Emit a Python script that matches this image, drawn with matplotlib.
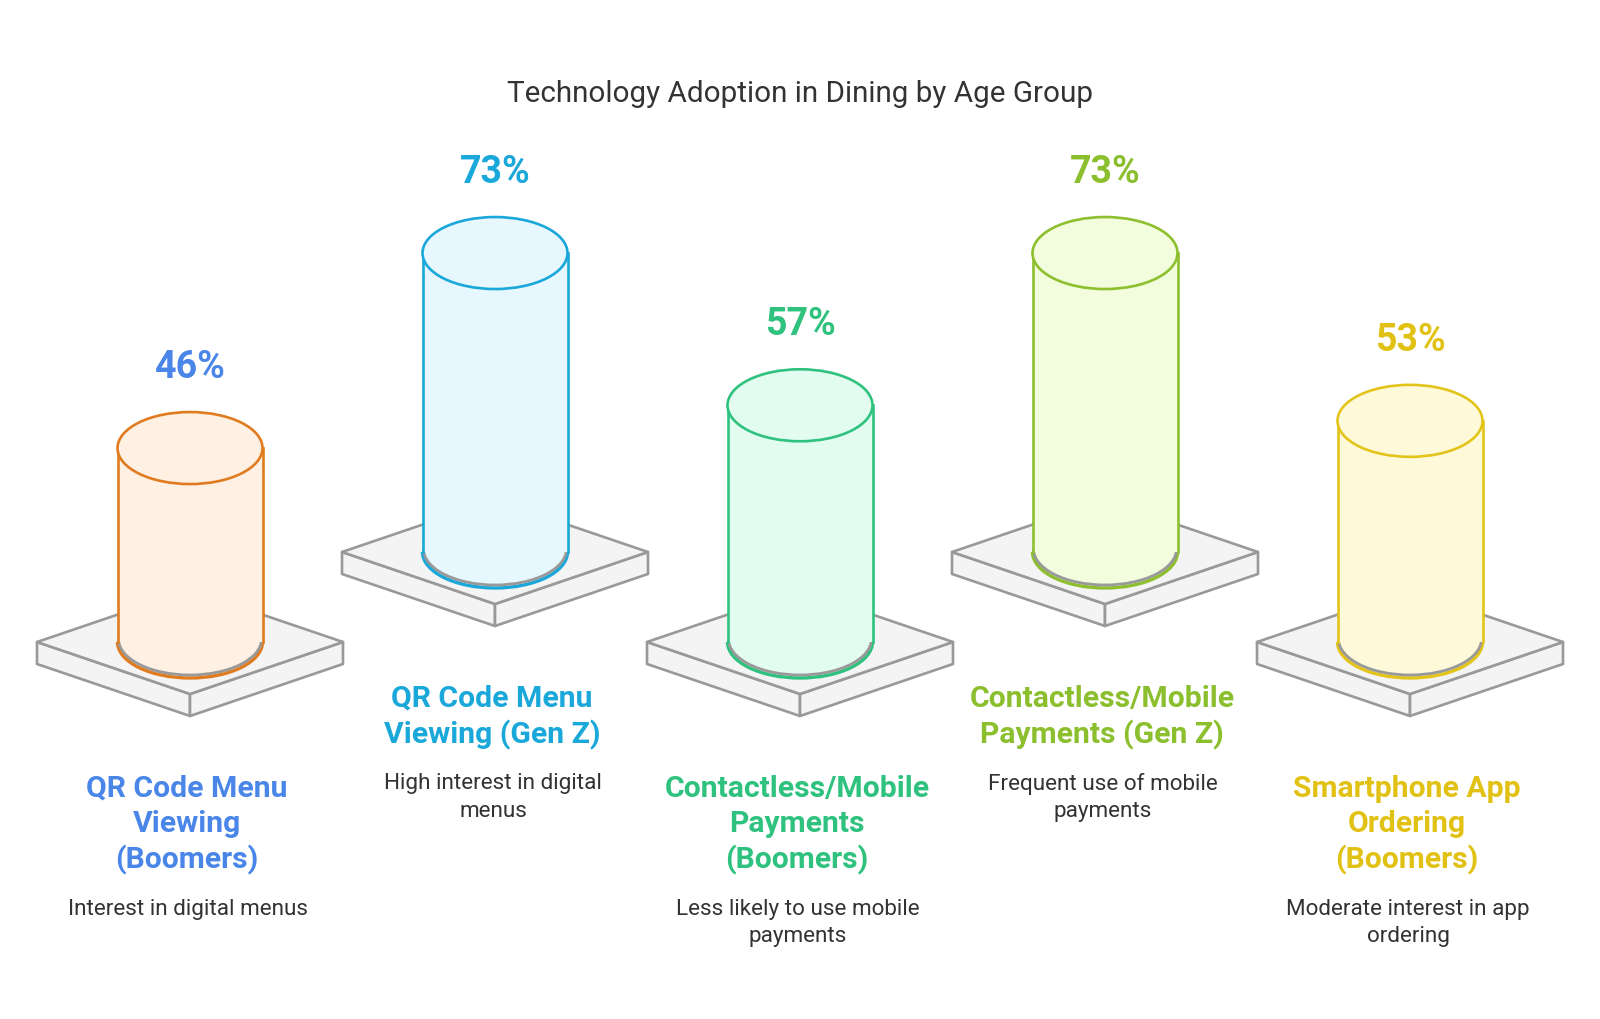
import matplotlib

matplotlib.use("Agg")
import matplotlib.pyplot as plt
from matplotlib.patches import Arc, Ellipse, Polygon, Rectangle

plt.rcParams["font.family"] = ["Roboto", "DejaVu Sans"]

# --- data -------------------------------------------------------------------
categories = [
    "QR Code Menu\nViewing\n(Boomers)",
    "QR Code Menu\nViewing (Gen Z)",
    "Contactless/Mobile\nPayments\n(Boomers)",
    "Contactless/Mobile\nPayments (Gen Z)",
    "Smartphone App\nOrdering\n(Boomers)",
]
values = [46, 73, 57, 73, 53]
descriptions = [
    "Interest in digital menus",
    "High interest in digital\nmenus",
    "Less likely to use mobile\npayments",
    "Frequent use of mobile\npayments",
    "Moderate interest in app\nordering",
]
text_colors = ["#4A86E8", "#1AA7D9", "#2EC27E", "#8BBF2E", "#E1C214"]
edge_colors = ["#E07B1F", "#1AA7D9", "#2EC27E", "#8DBF2E", "#E3C41A"]
fill_colors = ["#FEF0E3", "#E6F7FD", "#E2FCEF", "#F1FDDC", "#FEF9D9"]
title = "Technology Adoption in Dining by Age Group"

# --- layout (pixel space, y grows downward) ---------------------------------
W, H = 1600, 1020
x0, step = 190, 305
base_y = [643, 553]          # low / high slabs alternate
slab_hw, slab_hd, slab_t = 153, 52, 22
cyl_hw, cyl_hh = 72.5, 36
h_min, px_per_pct = 15, 3.89  # cylinder height = h_min + value * px_per_pct
slab_face, slab_edge = "#F4F4F4", "#999999"

fig = plt.figure(figsize=(W / 100, H / 100), dpi=100)
ax = fig.add_axes([0, 0, 1, 1])
ax.set_xlim(0, W)
ax.set_ylim(H, 0)
ax.axis("off")

ax.text(W / 2, 91, title, ha="center", va="center_baseline", fontsize=21.3, color="#333333")

for i, (cat, val, desc) in enumerate(zip(categories, values, descriptions)):
    cx = x0 + i * step
    by = base_y[i % 2]

    # slab: top face + two visible sides
    left, front, right, back = (cx - slab_hw, by), (cx, by + slab_hd), (cx + slab_hw, by), (cx, by - slab_hd)
    sides = [
        [left, front, (front[0], front[1] + slab_t), (left[0], left[1] + slab_t)],
        [front, right, (right[0], right[1] + slab_t), (front[0], front[1] + slab_t)],
        [left, front, right, back],
    ]
    for pts in sides:
        ax.add_patch(Polygon(pts, closed=True, fc=slab_face, ec=slab_edge, lw=1.9, joinstyle="round", zorder=2))

    # cylinder
    top = by - (h_min + val * px_per_pct)
    ec, fc = edge_colors[i], fill_colors[i]
    ax.add_patch(Ellipse((cx, by), 2 * cyl_hw, 2 * cyl_hh, fc=fc, ec="none", zorder=3))
    ax.add_patch(Arc((cx, by), 2 * cyl_hw, 2 * cyl_hh, theta1=0, theta2=180, ec=ec, lw=2.4, zorder=3))
    ax.add_patch(Arc((cx, by - 3), 2 * cyl_hw - 2, 2 * cyl_hh, theta1=0, theta2=180, ec="#999999", lw=2.0, zorder=3))
    ax.add_patch(Rectangle((cx - cyl_hw, top), 2 * cyl_hw, by - top, fc=fc, ec="none", zorder=3))
    ax.plot([cx - cyl_hw, cx - cyl_hw], [top, by], color=ec, lw=1.9, zorder=4)
    ax.plot([cx + cyl_hw, cx + cyl_hw], [top, by], color=ec, lw=1.9, zorder=4)
    ax.add_patch(Ellipse((cx, top), 2 * cyl_hw, 2 * cyl_hh, fc=fc, ec=ec, lw=1.9, zorder=5))

    # value label
    ax.text(cx, top - cyl_hh - 49.5, f"{val}%", ha="center", va="center_baseline",
            fontsize=27, fontweight="bold", color=text_colors[i])

    # category label, one line at a time
    y = by + 143
    lines = cat.split("\n")
    for j, line in enumerate(lines):
        ax.text(cx - 3, y + j * 35.5, line, ha="center", va="center_baseline",
                fontsize=21.7, fontweight="bold", color=text_colors[i])
    y += (len(lines) - 1) * 35.5 + 50
    for j, line in enumerate(desc.split("\n")):
        ax.text(cx - 2, y + j * 27.5, line, ha="center", va="center_baseline",
                fontsize=16.2, color="#333333")

fig.savefig("out.png", dpi=100, facecolor="white")
